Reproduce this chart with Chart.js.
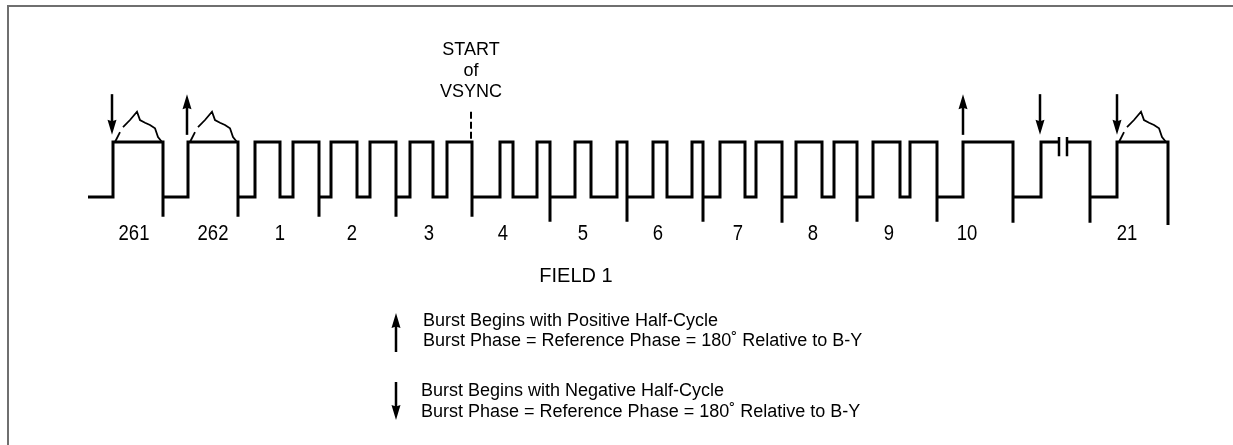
<!DOCTYPE html>
<html>
<head>
<meta charset="utf-8">
<title>Burst phase - Field 1</title>
<script src="https://cdn.jsdelivr.net/npm/chart.js@4/dist/chart.umd.min.js"></script>
<style>
  html, body { margin: 0; padding: 0; background: #fff; }
  #wrap { position: relative; width: 1233px; height: 445px; overflow: hidden; }
  #frame { position: absolute; left: 7px; top: 5px; right: 0; bottom: -4px;
           border-top: 2px solid #6f6f6f; border-left: 2px solid #6f6f6f; }
  canvas { position: absolute; left: 0; top: 0; }
</style>
</head>
<body>
<div id="wrap">
  <div id="frame"></div>
  <canvas id="chart" width="1233" height="445"></canvas>
</div>
<script>
// --- Data ---
// signal levels: blanking = 0, top of pulse = 100, sync spikes go below 0
// step points along the line (x in diagram units), level after each edge
const waveX = [88, 113, 163, 163, 188, 238, 238, 255, 280, 293, 319, 319, 331, 357, 370, 396, 396,
    410, 433, 447, 472, 472, 500, 513, 537, 550, 550, 575, 591, 617, 627, 627, 653, 667, 692, 703, 703,
    720, 745, 756, 782, 782, 796, 822, 834, 857, 857, 873, 900, 910, 937, 937, 963, 1013, 1013,
    1041, 1059, 1063, 1067, 1090, 1090, 1117, 1168];
const waveY = [0, 100, -36, 0, 100, -36, 0, 100, 0, 100, -36, 0, 100, 0, 100, -36, 0,
    100, 0, 100, -36, 0, 100, 0, 100, -45, 0, 100, 0, 100, -45, 0, 100, 0, 100, -45, 0,
    100, 0, 100, -47, 0, 100, 0, 100, -45, 0, 100, 0, 100, -45, 0, 100, -47, 0,
    100, 100, null, 100, -47, 0, 100, -51];

// burst envelope shape, relative to the rising edge of the line
const envStarts = [113, 188, 1117];
const envDx = [2, 7, null, 10, 17, 24, 27, 32, 37, 42, 45, 49];
const envY = [100, 118, null, 127, 140, 155, 140, 135, 131, 125, 109, 100];

// burst phase arrows: 1 = positive half-cycle first, -1 = negative
const arrowX = [112, 187, 963, 1040, 1117];
const arrowDir = [-1, 1, 1, -1, -1];

// time break symbol and start of vsync marker
const breakX = [1059, 1067];
const breakY = [109, 74];
const vsyncX = 471;
const vsyncY = [155, 104];

// line numbers under the waveform
const lineLabels = ['261', '262', '1', '2', '3', '4', '5', '6', '7', '8', '9', '10', '21'];
const lineLabelX = [134, 213, 280, 352, 429, 503, 583, 658, 738, 813, 889, 967, 1127];

const FONT = '"Liberation Sans", Arial, Helvetica, sans-serif';

// --- Build datasets ---
const wavePoints = waveX.map((x, i) => ({ x: x, y: waveY[i] }));

const envPoints = [];
envStarts.forEach(s => {
    envDx.forEach((dx, i) => {
        envPoints.push(dx === null ? { x: s, y: null } : { x: s + dx, y: envY[i] });
    });
    envPoints.push({ x: s + 50, y: null });
});

const breakPoints = [];
breakX.forEach(x => {
    breakPoints.push({ x: x, y: breakY[0] }, { x: x, y: breakY[1] }, { x: x + 1, y: null });
});

const vsyncPoints = [{ x: vsyncX, y: vsyncY[0] }, { x: vsyncX, y: vsyncY[1] }];

// --- Arrows & texts ---
function drawArrow(ctx, x, yFrom, yTip) {
    const dir = yTip > yFrom ? 1 : -1;
    const head = 15, half = 4.5;
    ctx.beginPath();
    ctx.lineWidth = 2.5;
    ctx.moveTo(x, yFrom);
    ctx.lineTo(x, yTip - dir * (head - 2));
    ctx.stroke();
    ctx.beginPath();
    ctx.moveTo(x, yTip);
    ctx.lineTo(x - half, yTip - dir * head);
    ctx.lineTo(x, yTip - dir * (head - 1.5));
    ctx.lineTo(x + half, yTip - dir * head);
    ctx.closePath();
    ctx.fill();
}

const annotations = {
    id: 'annotations',
    afterDatasetsDraw(chart) {
        const ctx = chart.ctx;
        const xs = chart.scales.x, ys = chart.scales.y;
        ctx.save();
        ctx.fillStyle = '#000';
        ctx.strokeStyle = '#000';

        // burst arrows above the pulses
        const aTop = ys.getPixelForValue(187), aBot = ys.getPixelForValue(113);
        arrowX.forEach((v, i) => {
            const x = xs.getPixelForValue(v);
            if (arrowDir[i] > 0) drawArrow(ctx, x, aBot, aTop);
            else drawArrow(ctx, x, aTop, aBot);
        });

        // START of VSYNC
        ctx.font = '18px ' + FONT;
        ctx.textAlign = 'center';
        ctx.textBaseline = 'alphabetic';
        const vx = xs.getPixelForValue(vsyncX);
        ctx.fillText('START', vx, 55);
        ctx.fillText('of', vx, 76);
        ctx.fillText('VSYNC', vx, 97);

        // line numbers
        const base = ys.getPixelForValue(0) + 43;
        ctx.font = '18.5px ' + FONT;
        lineLabels.forEach((t, i) => {
            ctx.save();
            ctx.translate(xs.getPixelForValue(lineLabelX[i]), base);
            ctx.scale(1, 1.2);
            ctx.fillText(t, 0, 0);
            ctx.restore();
        });

        ctx.font = '20px ' + FONT;
        ctx.fillText('FIELD 1', 576, 282);

        // legend
        drawArrow(ctx, 396, 352, 313);
        drawArrow(ctx, 396, 382, 420);
        ctx.font = '18px ' + FONT;
        ctx.textAlign = 'left';
        ctx.fillText('Burst Begins with Positive Half-Cycle', 423, 326);
        ctx.fillText('Burst Phase = Reference Phase = 180\u02DA Relative to B-Y', 423, 346);
        ctx.fillText('Burst Begins with Negative Half-Cycle', 421, 396);
        ctx.fillText('Burst Phase = Reference Phase = 180\u02DA Relative to B-Y', 421, 417);
        ctx.restore();
    }
};

// --- Chart ---
new Chart(document.getElementById('chart'), {
    type: 'scatter',
    data: {
        datasets: [
            { data: wavePoints, showLine: true, stepped: true, borderColor: '#000', borderWidth: 3,
              borderJoinStyle: 'miter', pointRadius: 0, spanGaps: false },
            { data: envPoints, showLine: true, borderColor: '#000', borderWidth: 1.8,
              pointRadius: 0, spanGaps: false },
            { data: breakPoints, showLine: true, borderColor: '#000', borderWidth: 2.5,
              pointRadius: 0, spanGaps: false },
            { data: vsyncPoints, showLine: true, borderColor: '#000', borderWidth: 2,
              borderDash: [7, 3], pointRadius: 0 }
        ]
    },
    options: {
        responsive: false,
        animation: false,
        events: [],
        layout: { padding: 0 },
        plugins: { legend: { display: false }, tooltip: { enabled: false } },
        scales: {
            x: { type: 'linear', display: false, min: 0, max: 1233 },
            y: { type: 'linear', display: false, min: -450.9, max: 358.2 }
        }
    },
    plugins: [annotations]
});
</script>
</body>
</html>
